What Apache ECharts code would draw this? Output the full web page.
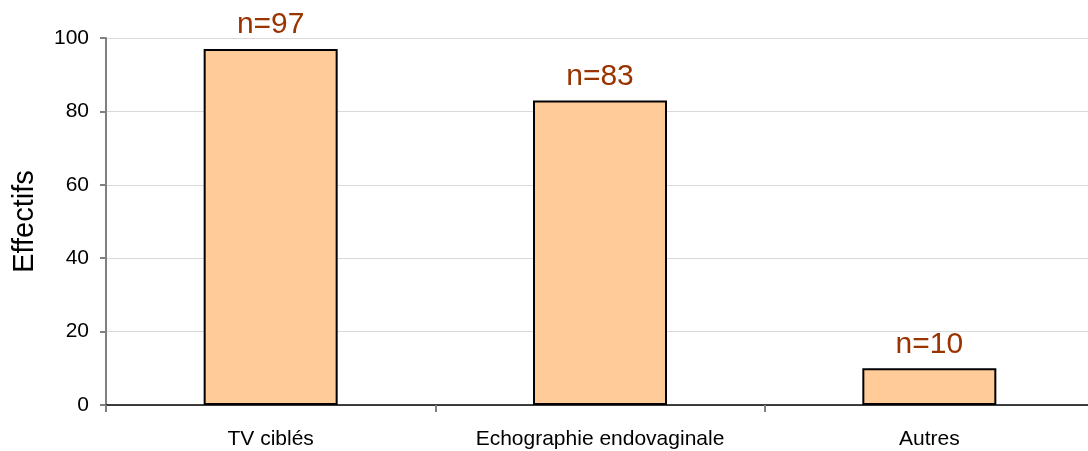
<!DOCTYPE html>
<html>
<head>
<meta charset="utf-8">
<script src="https://cdn.jsdelivr.net/npm/echarts@6/dist/echarts.min.js"></script>
<style>
  html, body { margin: 0; padding: 0; background: #fff; overflow: hidden; }
  #chart { width: 1095px; height: 451px; }
</style>
</head>
<body>
<div id="chart"></div>
<script>
const categories = ['TV ciblés', 'Echographie endovaginale', 'Autres']
const effectifs = [97, 83, 10]
const yTicks = [0, 20, 40, 60, 80, 100]

// plot area runs a few px past the right edge of the picture, like the original
const chart = echarts.init(document.getElementById('chart'))

const option = {
  animation: false,
  textStyle: { fontFamily: 'Liberation Sans, Arial, sans-serif' },
  grid: {
    left: 106,
    top: 38,
    right: 1,
    bottom: 46,
    containLabel: false
  },
  xAxis: {
    type: 'category',
    data: categories,
    axisLine: { lineStyle: { color: '#000', width: 1.5 } },
    axisTick: { show: true, length: 7, lineStyle: { color: '#808080', width: 2 } },
    axisLabel: { color: '#000', fontSize: 21, margin: 24 }
  },
  yAxis: {
    type: 'value',
    min: yTicks[0],
    max: yTicks[yTicks.length - 1],
    interval: 20,
    name: 'Effectifs',
    nameLocation: 'middle',
    nameGap: 67,
    nameTextStyle: { color: '#000', fontSize: 29 },
    axisLine: { show: true, lineStyle: { color: '#808080', width: 2 } },
    axisTick: { show: true, length: 6, lineStyle: { color: '#808080', width: 2 } },
    axisLabel: { color: '#000', fontSize: 21, margin: 17 },
    splitLine: { lineStyle: { color: '#d9d9d9', width: 1 } }
  },
  series: [
    {
      type: 'bar',
      data: effectifs,
      barWidth: 134,
      itemStyle: {
        color: '#ffcc99',
        borderColor: '#000',
        borderWidth: 2
      },
      label: {
        show: true,
        position: 'top',
        distance: 9,
        color: '#993300',
        fontSize: 30,
        formatter: p => 'n=' + p.value
      }
    }
  ]
}

chart.setOption(option)
</script>
</body>
</html>
